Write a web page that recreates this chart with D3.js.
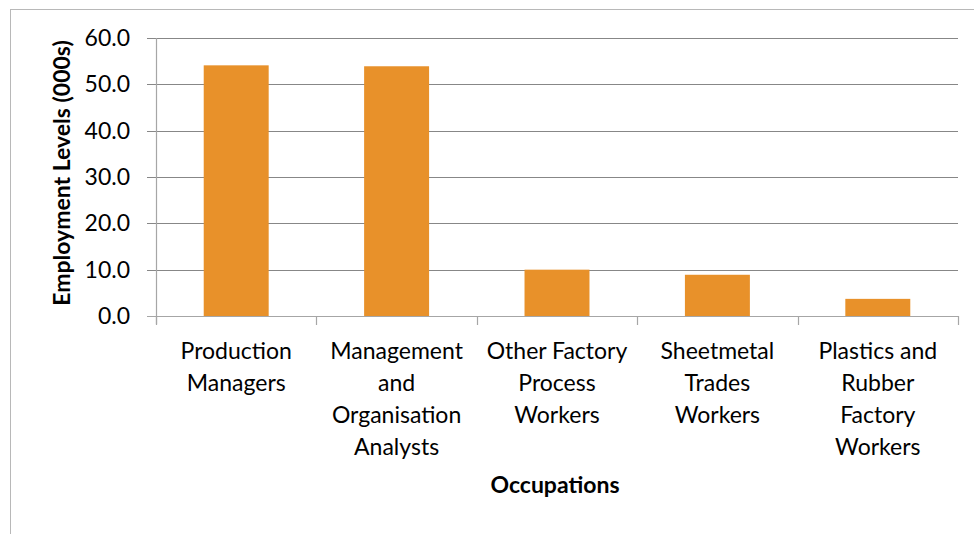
<!DOCTYPE html>
<html>
<head>
<meta charset="utf-8">
<script src="https://cdn.jsdelivr.net/npm/d3@7"></script>
<style>
  body { margin: 0; background: #fff; }
  svg { display: block; font-family: Lato, "Open Sans", sans-serif; }
</style>
</head>
<body>
<svg id="chart" width="974" height="534"></svg>
<script>
// data
const occupations = [
    ['Production', 'Managers'],
    ['Management', 'and', 'Organisation', 'Analysts'],
    ['Other Factory', 'Process', 'Workers'],
    ['Sheetmetal', 'Trades', 'Workers'],
    ['Plastics and', 'Rubber', 'Factory', 'Workers']
];
const employment = [54.1, 53.9, 10.0, 8.9, 3.7];
const yTicks = [0, 10, 20, 30, 40, 50, 60];

const barColor = '#e8912a';
const margin = {left: 156, right: 16, top: 38, bottom: 218};
const width = 974, height = 534;

const svg = d3.select('#chart');

// outer chart frame (runs off the right and bottom edges)
svg.append('rect')
    .attr('x', 10.5).attr('y', 9.5)
    .attr('width', 1000).attr('height', 600)
    .attr('fill', 'none')
    .attr('stroke', '#b8b8b8');

const x = d3.scaleBand()
    .domain(d3.range(employment.length))
    .range([margin.left, width - margin.right])
    .paddingInner(0.595)
    .paddingOuter(0.2975);

const y = d3.scaleLinear()
    .domain([0, 60])
    .range([height - margin.bottom, margin.top]);

const x0 = margin.left, x1 = width - margin.right;
const step = x.step();

// gridlines + y ticks
svg.append('g').selectAll('line')
    .data(yTicks)
    .enter().append('line')
    .attr('x1', x0 - 9).attr('x2', x1)
    .attr('y1', d => Math.round(y(d)) + 0.5)
    .attr('y2', d => Math.round(y(d)) + 0.5)
    .attr('stroke', d => d === 0 ? '#a6a6a6' : '#878787')
    .attr('stroke-width', 1.2);

// bars
svg.append('g').selectAll('rect')
    .data(employment)
    .enter().append('rect')
    .attr('x', (d, i) => x(i))
    .attr('width', x.bandwidth())
    .attr('y', d => y(d))
    .attr('height', d => y(0) - y(d))
    .attr('fill', barColor);

// y axis line
svg.append('line')
    .attr('x1', x0 + 0.5).attr('x2', x0 + 0.5)
    .attr('y1', y(60)).attr('y2', y(0) + 8)
    .attr('stroke', '#a6a6a6')
    .attr('stroke-width', 1.2);

// x axis ticks at category boundaries
svg.append('g').selectAll('line')
    .data(d3.range(employment.length + 1))
    .enter().append('line')
    .attr('x1', i => Math.round(x0 + i * step) + 0.5)
    .attr('x2', i => Math.round(x0 + i * step) + 0.5)
    .attr('y1', y(0)).attr('y2', y(0) + 9)
    .attr('stroke', '#a6a6a6')
    .attr('stroke-width', 1.2);

// y tick labels
svg.append('g').selectAll('text')
    .data(yTicks)
    .enter().append('text')
    .attr('x', 130)
    .attr('y', d => y(d) + 8)
    .attr('text-anchor', 'end')
    .attr('font-size', 23)
    .attr('fill', '#000')
    .text(d => d.toFixed(1));

// category labels
const labels = svg.append('g').selectAll('text')
    .data(occupations)
    .enter().append('text')
    .attr('text-anchor', 'middle')
    .attr('font-size', 23)
    .attr('fill', '#000');
labels.selectAll('tspan')
    .data((d, i) => d.map(line => ({line, i})))
    .enter().append('tspan')
    .attr('x', d => x(d.i) + x.bandwidth() / 2)
    .attr('y', (d, j) => 359 + j * 32)
    .text(d => d.line);

// axis titles
svg.append('text')
    .attr('x', 555)
    .attr('y', 493)
    .attr('text-anchor', 'middle')
    .attr('font-size', 23)
    .attr('font-weight', 'bold')
    .text('Occupations');

svg.append('text')
    .attr('transform', `translate(70, ${(y(0) + y(60)) / 2 - 4}) rotate(-90)`)
    .attr('text-anchor', 'middle')
    .attr('font-size', 23)
    .attr('font-weight', 'bold')
    .text('Employment Levels (000s)');
</script>
</body>
</html>
